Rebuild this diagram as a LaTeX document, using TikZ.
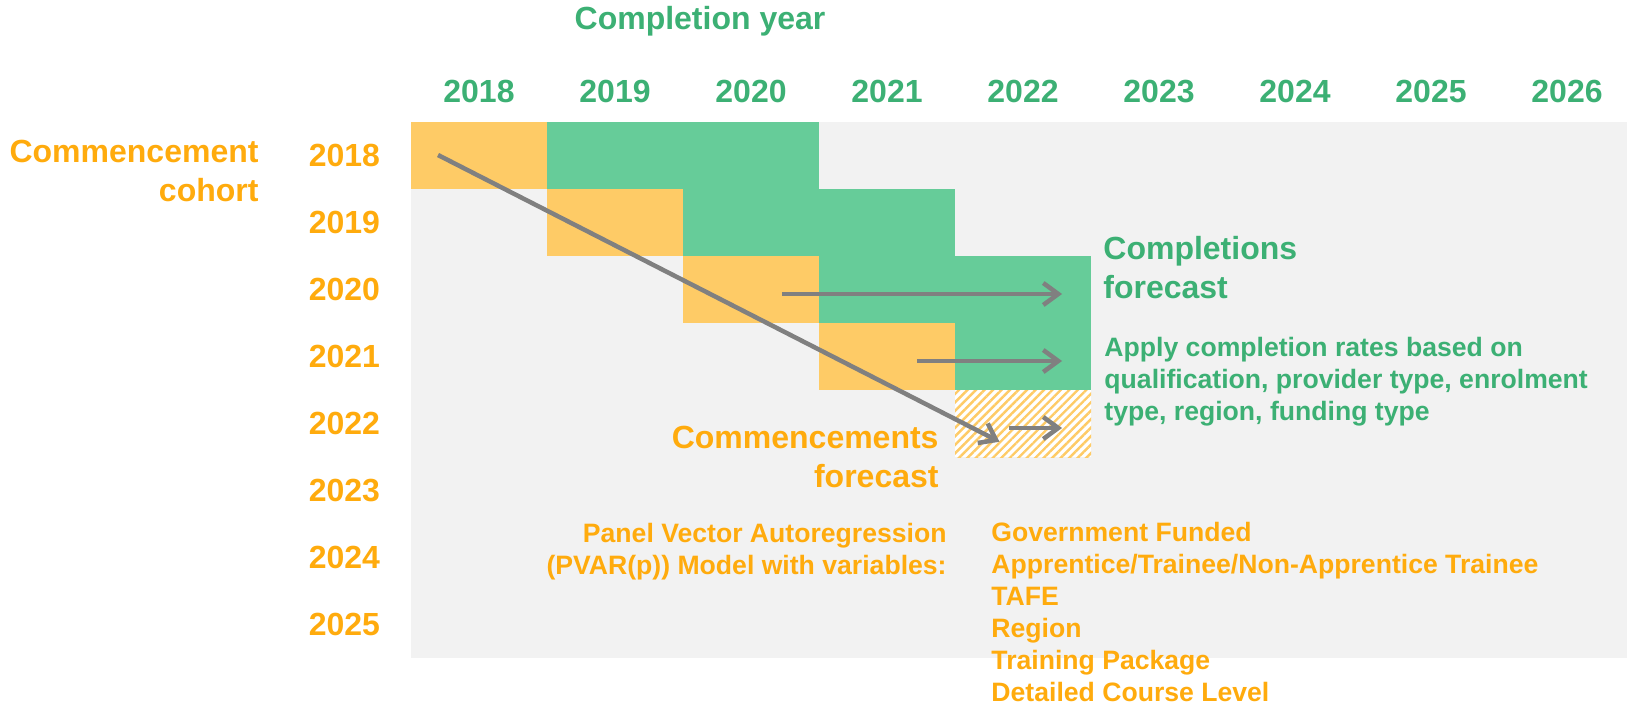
\documentclass[tikz,border=0pt]{standalone}
\usepackage{fontspec}
\setmainfont{Liberation Sans}
\definecolor{CompGreen}{RGB}{60,176,116}
\definecolor{CellGreen}{RGB}{102,204,153}
\definecolor{CommOrange}{RGB}{255,171,13}
\definecolor{CellOrange}{RGB}{254,203,102}
\definecolor{PanelGrey}{RGB}{242,242,242}
\definecolor{ArrowGrey}{RGB}{128,128,128}
\usetikzlibrary{arrows.meta, patterns.meta}

\begin{document}
\begin{tikzpicture}[x=68pt, y=33.5pt, inner sep=0pt,
        every node/.style={font=\bfseries\fontsize{16}{19.5}\selectfont},
        small/.style={font=\bfseries\fontsize{13.3}{16}\selectfont},
        flow/.style={line width=2.25pt, ArrowGrey, -{Straight Barb[length=7.5pt, width=11pt]}}]
        \useasboundingbox (-3.022,-0.687) rectangle (8.941,9.821);

        % Background panel
        \fill[PanelGrey] (0,0) rectangle (8.941,8);

        % Cohort 2018
        \fill[CellOrange] (0,7) rectangle (1,8);
        \fill[CellGreen] (1,7) rectangle (3,8);

        % Cohort 2019
        \fill[CellOrange] (1,6) rectangle (2,7);
        \fill[CellGreen] (2,6) rectangle (4,7);

        % Cohort 2020
        \fill[CellOrange] (2,5) rectangle (3,6);
        \fill[CellGreen] (3,5) rectangle (5,6);

        % Cohort 2021
        \fill[CellOrange] (3,4) rectangle (4,5);
        \fill[CellGreen] (4,4) rectangle (5,5);

        % Cohort 2022 (forecast)
        \fill[white] (4,3) rectangle (5,4);
        \fill[pattern={Lines[angle=45, distance=3pt, line width=1.2pt]}, pattern color=CellOrange] (4,3) rectangle (5,4);

        % Completion years
        \node[CompGreen] (compyear) at (2.125,9.507) {Completion year};
        \node[CompGreen] (c2018) at (0.5,8.458) {2018};
        \node[CompGreen] (c2019) at (1.5,8.458) {2019};
        \node[CompGreen] (c2020) at (2.5,8.458) {2020};
        \node[CompGreen] (c2021) at (3.5,8.458) {2021};
        \node[CompGreen] (c2022) at (4.5,8.458) {2022};
        \node[CompGreen] (c2023) at (5.5,8.458) {2023};
        \node[CompGreen] (c2024) at (6.5,8.458) {2024};
        \node[CompGreen] (c2025) at (7.5,8.458) {2025};
        \node[CompGreen] (c2026) at (8.5,8.458) {2026};

        % Commencement cohorts
        \node[CommOrange, anchor=east, align=right] (cohort) at (-1.118,7.269) {Commencement\\cohort};
        \node[CommOrange] (r2018) at (-0.49,7.5) {2018};
        \node[CommOrange] (r2019) at (-0.49,6.5) {2019};
        \node[CommOrange] (r2020) at (-0.49,5.5) {2020};
        \node[CommOrange] (r2021) at (-0.49,4.5) {2021};
        \node[CommOrange] (r2022) at (-0.49,3.5) {2022};
        \node[CommOrange] (r2023) at (-0.49,2.5) {2023};
        \node[CommOrange] (r2024) at (-0.49,1.5) {2024};
        \node[CommOrange] (r2025) at (-0.49,0.5) {2025};

        % Arrows
        \coordinate (diagStart) at (0.199,7.507);
        \coordinate (diagEnd) at (4.327,3.228);
        \coordinate (a2020) at (2.728,5.433);
        \coordinate (b2020) at (4.787,5.433);
        \coordinate (a2021) at (3.721,4.433);
        \coordinate (b2021) at (4.787,4.433);
        \coordinate (a2022) at (4.397,3.433);
        \coordinate (b2022) at (4.787,3.433);
        \draw[flow] (diagStart) -- (diagEnd);
        \draw[flow] (a2020) -- (b2020);
        \draw[flow] (a2021) -- (b2021);
        \draw[flow] (a2022) -- (b2022);

        % Annotations
        \node[CompGreen, anchor=west, align=left] (compfc) at (5.088,5.821) {Completions\\forecast};
        \node[CompGreen, small, anchor=west, align=left] (rates) at (5.096,4.119) {Apply completion rates based on\\qualification, provider type, enrolment\\type, region, funding type};
        \node[CommOrange, anchor=east, align=right] (commfc) at (3.882,3.007) {Commencements\\forecast};
        \node[CommOrange, small, anchor=east, align=right] (pvar) at (3.941,1.59) {Panel Vector Autoregression\\(PVAR(p)) Model with variables:};
        \node[CommOrange, small, anchor=west, align=left] (vars) at (4.265,0.687) {Government Funded\\Apprentice/Trainee/Non-Apprentice Trainee\\TAFE\\Region\\Training Package\\Detailed Course Level};
    \end{tikzpicture}
\end{document}
